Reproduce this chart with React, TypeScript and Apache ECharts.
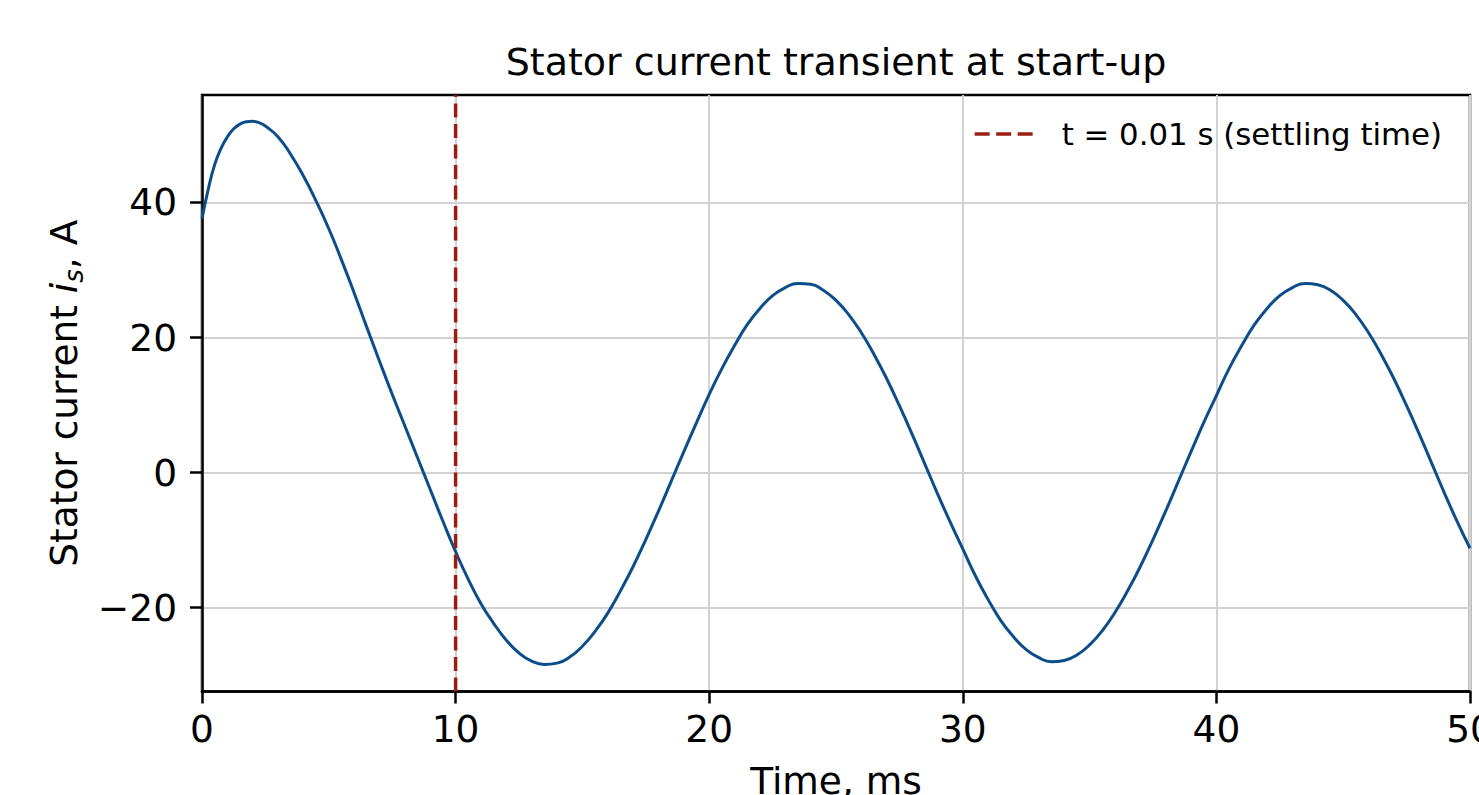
import React, { useEffect, useRef } from "react";
import * as echarts from "echarts";

// Time axis (ms) and stator current (A)
const TIME_MS = [
  0, 0.25, 0.5, 0.75, 1, 1.25, 1.5, 1.75, 2, 2.25,
  2.5, 3, 3.5, 4, 4.5,
  5, 5.5, 6, 6.5, 7, 7.5, 8, 8.5, 9, 9.5,
  10, 10.5, 11, 11.5, 12, 12.5, 13, 13.5, 14, 14.5,
  15, 15.5, 16, 16.5, 17, 17.5, 18, 18.5, 19, 19.5,
  20, 20.5, 21, 21.5, 22, 22.5, 23, 23.5, 24, 24.5,
  25, 25.5, 26, 26.5, 27, 27.5, 28, 28.5, 29, 29.5,
  30, 30.5, 31, 31.5, 32, 32.5, 33, 33.5, 34, 34.5,
  35, 35.5, 36, 36.5, 37, 37.5, 38, 38.5, 39, 39.5,
  40, 40.5, 41, 41.5, 42, 42.5, 43, 43.5, 44, 44.5,
  45, 45.5, 46, 46.5, 47, 47.5, 48, 48.5, 49, 49.5,
  50,
];

const CURRENT_A = [
  37.6, 42.0, 45.6, 48.0, 49.7, 50.9, 51.6, 51.95, 52.0, 51.8,
  51.3, 49.7, 47.1, 43.9, 40.2,
  36.1, 31.5, 26.6, 21.5, 16.5, 11.6, 6.9, 2.2, -2.5, -7.2,
  -11.7, -15.8, -19.4, -22.3, -24.8, -26.7, -27.9, -28.4, -28.2, -27.3,
  -25.7, -23.5, -20.8, -17.5, -13.9, -9.9, -5.7, -1.3, 3.1, 7.4,
  11.6, 15.4, 18.8, 21.9, 24.3, 26.2, 27.4, 28.0, 27.9, 27.0,
  25.5, 23.4, 20.7, 17.5, 13.9, 9.9, 5.7, 1.3, -3.1, -7.3,
  -11.3, -15.3, -18.8, -21.9, -24.3, -26.2, -27.4, -28.0, -27.8, -27.0,
  -25.5, -23.4, -20.7, -17.5, -13.9, -9.9, -5.7, -1.3, 3.1, 7.4,
  11.4, 15.4, 18.8, 21.9, 24.3, 26.2, 27.4, 28.0, 27.8, 27.0,
  25.5, 23.4, 20.7, 17.5, 13.9, 9.9, 5.7, 1.3, -3.1, -7.3,
  -11.2,
];

const SETTLING_MS = 10;
const SETTLING_NAME = "t = 0.01 s (settling time)";

const X_MIN = 0;
const X_MAX = 50;
const X_INTERVAL = 10;
const Y_MIN = -32.4;
const Y_MAX = 55.9;
const Y_TICKS = [-20, 0, 20, 40];

const TITLE = "Stator current transient at start-up";
const X_NAME = "Time, ms";

const FONT = "DejaVu Sans";
const RED = "#9a1f12";
const BLUE = "#0d4d8a";

function fmtNum(v: number): string {
  return v < 0 ? "\u2212" + Math.abs(v) : String(v);
}

export default function App() {
  const ref = useRef<HTMLDivElement>(null);

  useEffect(() => {
    document.body.style.margin = "0";
    if (!ref.current) return;
    const chart = echarts.init(ref.current, null, { renderer: "svg" });

    const curve = TIME_MS.map((t, i) => [t, CURRENT_A[i]]);
    const settling = [
      [SETTLING_MS, Y_MIN],
      [SETTLING_MS, Y_MAX],
    ];

    chart.setOption({
      animation: false,
      backgroundColor: "#ffffff",
      textStyle: { fontFamily: FONT },
      title: {
        text: TITLE,
        left: 836,
        top: 40,
        padding: 0,
        textAlign: "center",
        textStyle: {
          fontFamily: FONT,
          fontSize: 38,
          fontWeight: "normal",
          color: "#000",
          lineHeight: 44,
        },
      },
      legend: {
        left: 973,
        top: 116,
        padding: 0,
        itemWidth: 63,
        itemHeight: 14,
        data: [
          {
            name: SETTLING_NAME,
            itemStyle: { opacity: 0 },
            lineStyle: { color: RED, width: 3.3, type: [15, 6.5], opacity: 1 },
          },
        ],
        textStyle: {
          fontFamily: FONT,
          fontSize: 30.8,
          color: "#000",
          lineHeight: 36,
          padding: [0, 0, 0, 19],
        },
      },
      grid: {
        left: 202,
        right: 9,
        top: 95,
        bottom: 103.5,
        show: true,
        borderColor: "#000",
        borderWidth: 2.5,
        backgroundColor: "transparent",
        outerBoundsMode: "none",
        containLabel: false,
      },
      xAxis: {
        type: "value",
        min: X_MIN,
        max: X_MAX,
        interval: X_INTERVAL,
        name: X_NAME,
        nameLocation: "middle",
        nameGap: 70,
        nameTextStyle: { fontFamily: FONT, fontSize: 37.5, color: "#000" },
        axisLine: { show: true, onZero: false, lineStyle: { color: "#000", width: 2.5 } },
        axisTick: { show: true, length: 12, lineStyle: { color: "#000", width: 2.5 } },
        axisLabel: {
          fontFamily: FONT,
          fontSize: 37.5,
          color: "#000",
          margin: 18,
          formatter: (v: number) => fmtNum(v),
        },
        splitLine: { show: true, lineStyle: { color: "#d2d2d2", width: 2 } },
      },
      yAxis: {
        type: "value",
        min: Y_MIN,
        max: Y_MAX,
        name: "{n|Stator current }{i|i}{s|s}{n|, A}",
        nameLocation: "middle",
        nameRotate: 90,
        nameGap: 114,
        nameTextStyle: {
          fontFamily: FONT,
          color: "#000",
          rich: {
            n: { fontFamily: FONT, fontSize: 37.5, color: "#000", lineHeight: 46, verticalAlign: "middle" },
            i: { fontFamily: FONT, fontSize: 37.5, fontStyle: "italic", color: "#000", lineHeight: 46, verticalAlign: "middle" },
            s: { fontFamily: FONT, fontSize: 26, fontStyle: "italic", color: "#000", lineHeight: 28, verticalAlign: "bottom" },
          },
        },
        axisLine: { show: true, onZero: false, lineStyle: { color: "#000", width: 2.5 } },
        axisTick: {
          show: true,
          length: 12,
          customValues: Y_TICKS,
          lineStyle: { color: "#000", width: 2.5 },
        },
        axisLabel: {
          fontFamily: FONT,
          fontSize: 37.5,
          color: "#000",
          margin: 25,
          customValues: Y_TICKS,
          formatter: (v: number) => fmtNum(v),
        },
        splitLine: { show: true, lineStyle: { color: "#d2d2d2", width: 2 } },
      },
      series: [
        {
          type: "line",
          data: curve,
          symbol: "none",
          showSymbol: false,
          smooth: true,
          lineStyle: { color: BLUE, width: 3 },
          z: 3,
        },
        {
          type: "line",
          name: SETTLING_NAME,
          data: settling,
          symbol: "none",
          showSymbol: false,
          color: RED,
          lineStyle: { color: RED, width: 3.5, type: [14, 6.5] },
          z: 4,
        },
      ],
    });

    return () => chart.dispose();
  }, []);

  return <div ref={ref} style={{ width: 1479, height: 795 }} />;
}
